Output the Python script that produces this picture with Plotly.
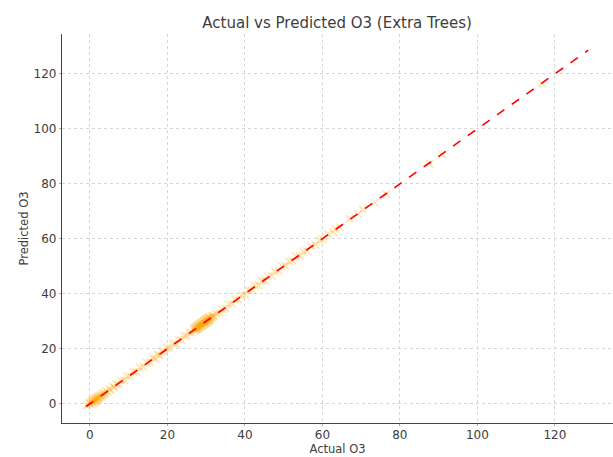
import plotly.graph_objects as go

# Actual vs predicted O3 values
actual = [
    -0.8, -0.3, 0.0, 0.2, 0.4, 0.5, 0.7, 0.8, 1.0, 1.1, 1.2, 1.3, 1.5, 1.6, 1.7, 1.8,
    2.0, 2.1, 2.2, 2.4, 2.5, 2.7, 2.9, 3.1, 3.3, 3.6, 3.9, 4.2, 4.6, 5.0, 5.4, 5.9,
    6.3, 6.8, 7.4, 8.1, 8.9, 9.6, 10.4, 11.2, 12.0, 12.9, 13.8, 14.6, 15.5, 16.3,
    16.9, 17.4, 18.0, 18.6, 19.3, 19.9, 20.6, 21.4, 22.1, 22.9, 23.6, 24.3, 25.0,
    25.6, 26.2,
    26.8, 27.0, 27.1, 27.3, 27.4, 27.5, 27.6, 27.7, 27.8, 27.9, 28.0, 28.1, 28.2,
    28.3, 28.4, 28.5, 28.6, 28.7, 28.8, 28.9, 29.0, 29.1, 29.2, 29.3, 29.4, 29.5,
    29.6, 29.7, 29.8, 29.9, 30.0, 30.1, 30.2, 30.3, 30.4, 30.5, 30.6, 30.7, 30.8,
    30.9, 31.0, 31.2, 31.4, 31.6, 31.8, 32.0,
    32.6, 33.4, 34.1, 35.0, 35.8, 36.7, 37.5, 38.3, 39.2, 40.1, 41.0, 41.8, 42.6,
    43.5, 44.3, 45.2, 46.0, 46.9, 47.8, 48.7, 49.6, 50.5, 51.4, 52.3, 53.2, 54.1,
    55.0, 56.0, 57.1, 58.2, 59.3, 60.1, 61.4, 62.8, 63.3, 64.5, 67.0, 69.3, 70.4,
    73.5, 76.5, 87.7, 91.0, 116.7,
]
predicted = [
    -0.5, 0.2, 0.4, -0.1, 0.7, 1.0, 0.3, 1.3, 0.6, 1.5, 0.8, 1.7, 1.1, 2.0, 1.3, 2.2,
    1.6, 2.5, 1.9, 2.8, 2.1, 3.1, 2.5, 3.5, 2.9, 4.0, 3.5, 4.6, 4.2, 5.4, 5.0, 6.3,
    5.9, 7.2, 7.0, 8.5, 8.5, 10.0, 10.0, 11.6, 11.6, 13.3, 13.4, 15.0, 15.1, 16.7,
    16.4, 17.9, 17.6, 19.0, 18.9, 20.3, 20.2, 21.8, 21.7, 23.3, 23.2, 24.7, 24.6,
    26.0, 25.8,
    27.3, 26.6, 27.6, 26.9, 27.9, 27.0, 28.1, 27.2, 28.3, 27.4, 28.6, 27.6, 28.8,
    27.8, 29.0, 28.0, 29.2, 28.2, 29.4, 28.4, 29.6, 28.6, 29.8, 28.8, 30.0, 29.0,
    30.2, 29.2, 30.4, 29.4, 30.6, 29.6, 30.8, 29.8, 31.0, 30.0, 31.2, 30.2, 31.4,
    30.4, 31.5, 30.8, 31.9, 31.2, 32.2, 31.7,
    32.9, 33.0, 34.5, 34.6, 36.2, 36.3, 37.9, 37.9, 39.6, 39.7, 41.4, 41.4, 43.0,
    43.1, 44.7, 44.8, 46.4, 46.5, 48.2, 48.3, 50.0, 50.1, 51.8, 51.9, 53.6, 53.7,
    55.4, 55.6, 57.4, 57.8, 59.6, 59.8, 61.7, 62.4, 63.6, 64.2, 67.3, 69.0, 70.7,
    73.2, 76.2, 87.2, 90.6, 116.5,
]
# Ideal-fit reference line endpoints (min / max of the test range)
ideal_line = [-1.0, 128.6]
tick_values = [0, 20, 40, 60, 80, 100, 120]

text_color = "#3d3d3d"
font_family = "DejaVu Sans"

fig = go.Figure()
fig.add_trace(go.Scatter(
    x=actual, y=predicted, mode="markers",
    marker=dict(symbol="x-thin", size=7.5,
                line=dict(width=1.5, color="rgba(255,165,0,0.3)")),
    showlegend=False, hoverinfo="skip",
))
fig.add_trace(go.Scatter(
    x=ideal_line, y=ideal_line, mode="lines",
    line=dict(color="red", width=1.6, dash="dash"),
    showlegend=False, hoverinfo="skip",
))

axis_common = dict(
    showgrid=True, gridcolor="#d6d6d6", griddash="dot", gridwidth=1,
    zeroline=False, showline=True, linecolor="#444444", linewidth=1.3,
    ticks="outside", ticklen=2, tickcolor="#aaaaaa", tickwidth=1,
    tickfont=dict(family=font_family, size=12, color=text_color),
    tickmode="array", tickvals=tick_values,
    mirror=False,
)

fig.update_layout(
    width=613, height=457,
    margin=dict(l=62, r=0, t=34, b=34),
    paper_bgcolor="white", plot_bgcolor="white",
    title=dict(text="Actual vs Predicted O3 (Extra Trees)", x=0.55, xanchor="center",
               y=0.95, yanchor="middle",
               font=dict(family=font_family, size=15, color=text_color)),
    xaxis=dict(range=[-7.2, 135], ticklabelstandoff=-2,
               title=dict(text="Actual O3", standoff=3,
                          font=dict(family=font_family, size=11.5, color=text_color)),
               **axis_common),
    yaxis=dict(range=[-7.0, 134.5], ticklabelstandoff=0,
               title=dict(text="Predicted O3", standoff=2,
                          font=dict(family=font_family, size=11.5, color=text_color)),
               **axis_common),
)

fig.write_html("out.html")
